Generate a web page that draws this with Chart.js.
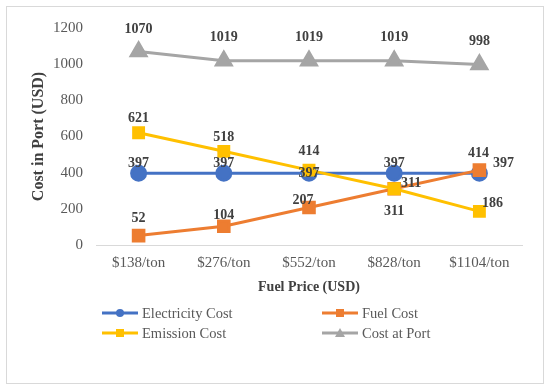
<!DOCTYPE html>
<html><head><meta charset="utf-8">
<script src="https://cdn.jsdelivr.net/npm/chart.js@4"></script>
<style>html,body{margin:0;padding:0;background:#fff;}#wrap{width:550px;height:389px;}</style>
</head><body><div id="wrap"><canvas id="c" width="550" height="389"></canvas></div>
<script>
const categories = ['$138/ton','$276/ton','$552/ton','$828/ton','$1104/ton'];
const electricityCost = [397,397,397,397,397];
const fuelCost = [52,104,207,311,414];
const emissionCost = [621,518,414,311,186];
const costAtPort = [1070,1019,1019,1019,998];
const yTicks = [0,200,400,600,800,1000,1200];

// data-label nudges (pixels, relative to each point): [dx, dy]
const elecLabelNudge = [[0,-10],[0,-10],[0,0],[0,-10],[24,-10]];
const fuelLabelNudge = [[0,-17],[0,-11],[-6,-7],[17,-5],[-1,-17]];
const emisLabelNudge = [[0,-14],[0,-14],[0,-19],[0,23],[13,-8]];
const portLabelNudge = [[0,-22],[0,-23],[0,-23],[0,-23],[0,-23]];

const SERIF = '"Liberation Serif","Times New Roman",serif';

const labelPlugin = {
  id:'lbls',
  afterDatasetsDraw(chart){
    const ctx = chart.ctx;
    ctx.save();
    ctx.font = 'bold 14px '+SERIF;
    ctx.fillStyle = '#404040';
    ctx.textAlign='center';
    ctx.textBaseline='middle';
    chart.data.datasets.forEach((ds,i)=>{
      const meta = chart.getDatasetMeta(i);
      meta.data.forEach((pt,j)=>{
        const [dx,dy] = ds.nudge[j];
        ctx.fillText(String(ds.data[j]), pt.x+dx, pt.y+dy);
      });
    });
    ctx.restore();
  }
};

const frame = {
  id:'frame',
  beforeDraw(chart){
    const ctx = chart.ctx;
    ctx.save();
    ctx.fillStyle='#fff';
    ctx.fillRect(0,0,chart.width,chart.height);
    ctx.strokeStyle='#d9d9d9';
    ctx.lineWidth=1;
    ctx.strokeRect(6.5,6.5,537,377);
    ctx.restore();
  },
  afterDraw(chart){
    const ctx = chart.ctx;
    ctx.save();
    const spots = [[102,313],[322,313],[102,333],[322,333]];
    chart.data.datasets.forEach((ds,i)=>{
      const [x,y] = spots[i];
      ctx.strokeStyle = ds.borderColor;
      ctx.lineWidth = 3;
      ctx.beginPath(); ctx.moveTo(x,y); ctx.lineTo(x+36,y); ctx.stroke();
      ctx.fillStyle = ds.backgroundColor;
      const cx = x+18;
      if(ds.pointStyle==='circle'){ctx.beginPath();ctx.arc(cx,y,4,0,Math.PI*2);ctx.fill();}
      else if(ds.pointStyle==='rect'){ctx.fillRect(cx-4,y-4,8,8);}
      else {ctx.beginPath();ctx.moveTo(cx,y-5);ctx.lineTo(cx+5,y+4);ctx.lineTo(cx-5,y+4);ctx.closePath();ctx.fill();}
      ctx.fillStyle='#595959';
      ctx.font='14.5px '+SERIF;
      ctx.textAlign='left'; ctx.textBaseline='middle';
      ctx.fillText(ds.label, x+40, y+1);
    });
    ctx.restore();
  }
};

new Chart(document.getElementById('c'),{
  type:'line',
  data:{
    labels:categories,
    datasets:[
      {label:'Electricity Cost',data:electricityCost,borderColor:'#4472C4',backgroundColor:'#4472C4',pointStyle:'circle',pointRadius:7,pointHoverRadius:7,borderWidth:3,order:4,nudge:elecLabelNudge},
      {label:'Fuel Cost',data:fuelCost,borderColor:'#ED7D31',backgroundColor:'#ED7D31',pointStyle:'rect',pointRadius:7.5,pointHoverRadius:7.5,borderWidth:3,order:3,nudge:fuelLabelNudge},
      {label:'Emission Cost',data:emissionCost,borderColor:'#FFC000',backgroundColor:'#FFC000',pointStyle:'rect',pointRadius:7,pointHoverRadius:7,borderWidth:3,order:2,nudge:emisLabelNudge},
      {label:'Cost at Port',data:costAtPort,borderColor:'#A5A5A5',backgroundColor:'#A5A5A5',pointStyle:'triangle',pointRadius:8.5,pointHoverRadius:8.5,borderWidth:3,order:1,nudge:portLabelNudge}
    ]
  },
  options:{
    responsive:false,
    animation:false,
    events:[],
    layout:{padding:{left:29,right:28,top:28,bottom:93}},
    plugins:{legend:{display:false},tooltip:{enabled:false}},
    scales:{
      x:{
        offset:true,
        afterFit(s){s.height = 51;},
        grid:{display:false,drawTicks:false},
        border:{display:true,color:'#d9d9d9',width:1},
        ticks:{color:'#595959',font:{family:SERIF,size:15},padding:9,maxRotation:0},
        title:{display:true,text:'Fuel Price (USD)',color:'#404040',font:{family:SERIF,size:14,weight:'bold'},padding:{top:0,bottom:0}}
      },
      y:{
        min:0,max:1200,
        afterBuildTicks(s){s.ticks = yTicks.map(v=>({value:v}));},
        afterFit(s){s.width = 67;},
        grid:{display:false,drawTicks:false},
        border:{display:false},
        ticks:{color:'#595959',font:{family:SERIF,size:15},padding:13,callback:v=>String(v)},
        title:{display:true,text:'Cost in Port (USD)',color:'#404040',font:{family:SERIF,size:16,weight:'bold'},padding:{top:0,bottom:6}}
      }
    }
  },
  plugins:[frame,labelPlugin]
});
</script></body></html>
